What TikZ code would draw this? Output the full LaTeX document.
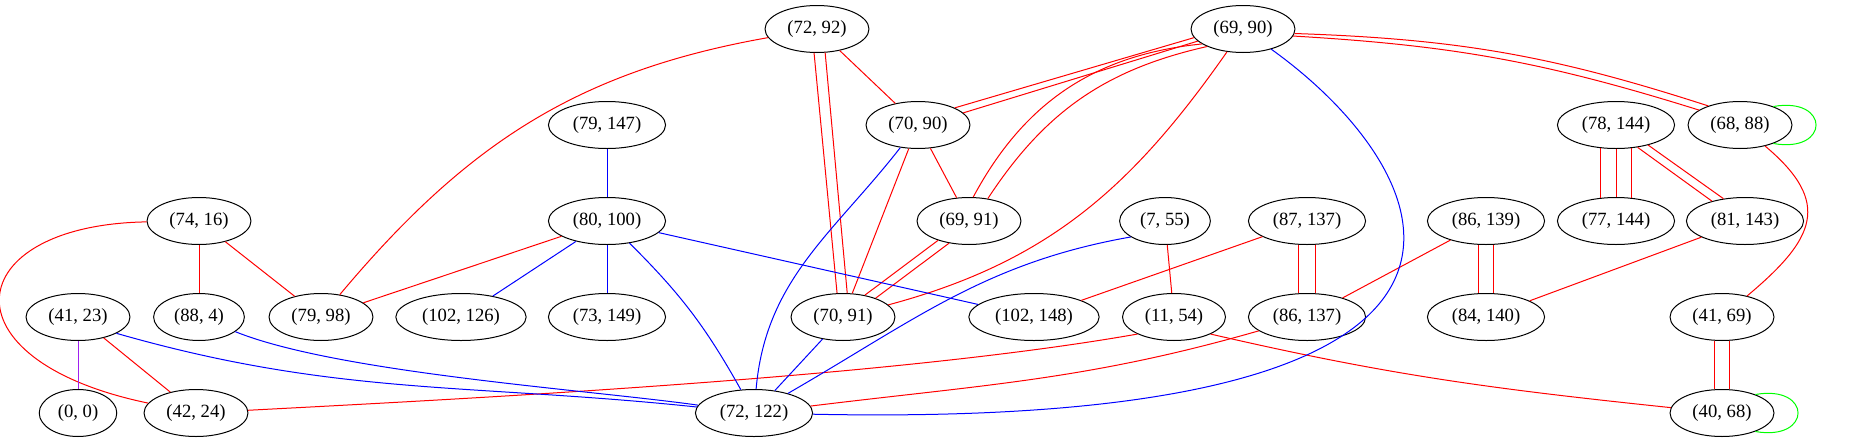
\documentclass[tikz,border=0pt]{standalone}
\usepackage{fontspec}
\setmainfont{Liberation Serif}
\usetikzlibrary{shapes.geometric}
\definecolor{gvpurple}{RGB}{160,32,240}
\begin{document}
\begin{tikzpicture}[x=0.75pt,y=-0.75pt,line width=0.75pt,
    vertex/.style={ellipse,draw,inner xsep=5.4pt,inner ysep=1pt,
      minimum height=35.25pt,font=\fontsize{14pt}{16pt}\selectfont},
    redline/.style={red},
    blueline/.style={blue},
    purpleline/.style={gvpurple},
    loopline/.style={green,looseness=4}]
      \useasboundingbox (0,0) rectangle (1864,443);
      \path[every node/.style=vertex]
        (817,29) node (0){(72, 92)}
        (1243,29) node (1){(69, 90)}
        (607,125) node (2){(79, 147)}
        (918,125) node (3){(70, 90)}
        (1616,125) node (4){(78, 144)}
        (1740,125) node (5){(68, 88)}
        (199,221) node (6){(74, 16)}
        (607,221) node (7){(80, 100)}
        (969,221) node (8){(69, 91)}
        (1165,221) node (9){(7, 55)}
        (1307,221) node (10){(87, 137)}
        (1486,221) node (11){(86, 139)}
        (1616,221) node (12){(77, 144)}
        (1745,221) node (13){(81, 143)}
        (78,317) node (14){(41, 23)}
        (199,317) node (15){(88, 4)}
        (321,317) node (16){(79, 98)}
        (461,317) node (17){(102, 126)}
        (607,317) node (18){(73, 149)}
        (843,317) node (19){(70, 91)}
        (1034,317) node (20){(102, 148)}
        (1174,317) node (21){(11, 54)}
        (1307,317) node (22){(86, 137)}
        (1486,317) node (23){(84, 140)}
        (1722,317) node (24){(41, 69)}
        (78,413) node (25){(0, 0)}
        (196,413) node (26){(42, 24)}
        (754,413) node (27){(72, 122)}
        (1722,413) node (28){(40, 68)};
      \begin{scope}[redline]
        \draw (0) to[out=190,in=50] (16);
        \draw (0) to (3);
        \draw (0.263) to (19.104);
        \draw (0.289) to (19.80);
        \draw (1.190) to (3.25);
        \draw (1.195) to (3.15);
        \draw (1.200) to[bend right=28] (8.80);
        \draw (1.206) to[bend right=22] (8.50);
        \draw (1) to[out=235,in=15] (19);
        \draw (1.355) to[bend left=8] (5.149);
        \draw (1.352) to[bend left=7] (5.160);
        \draw (3) to (8);
        \draw (3) to (19);
        \draw (8.212) to (19.45);
        \draw (8.228) to (19.30);
        \draw (4.236) to (12.124);
        \draw (4) to (12);
        \draw (4.304) to (12.56);
        \draw (4.314) to (13.149);
        \draw (4.328) to (13.134);
        \draw (5) to[out=-40,in=40,looseness=1.5] (24);
        \draw (24.252) to (28.108);
        \draw (24.288) to (28.72);
        \draw (13) to (23);
        \draw (11.252) to (23.108);
        \draw (11.288) to (23.72);
        \draw (11) to (22);
        \draw (10.250) to (22.110);
        \draw (10.290) to (22.70);
        \draw (10) to (20);
        \draw (22) to[out=196,in=7] (27);
        \draw (9) to (21);
        \draw (21.205) to[out=190,in=3,looseness=0.7] (26);
        \draw (21.335) to[out=-13,in=174] (28);
        \draw (7) to (16);
        \draw (6) to (15);
        \draw (6) to (16);
        \draw (6) .. controls (-40,225) and (-60,360) .. (26);
        \draw (14) to (26);
      \end{scope}
      \begin{scope}[blueline]
        \draw (1) .. controls (1440,170) and (1580,430) .. (27);
        \draw (3) to[out=232,in=85] (27);
        \draw (19) to (27);
        \draw (9.205) to[out=190,in=30] (27);
        \draw (2) to (7);
        \draw (7) to (17);
        \draw (7) to (18);
        \draw (7) to[bend left=8] (27);
        \draw (7) to (20);
        \draw (14.337) to[out=-16,in=174] (27);
        \draw (15) to[out=-22,in=172,looseness=0.6] (27);
      \end{scope}
      \draw[purpleline] (14) to (25);
      \begin{scope}[loopline]
        \draw (5.29) to[out=10,in=-10] (5.331);
        \draw (28.29) to[out=10,in=-10] (28.331);
      \end{scope}
    \end{tikzpicture}
\end{document}
